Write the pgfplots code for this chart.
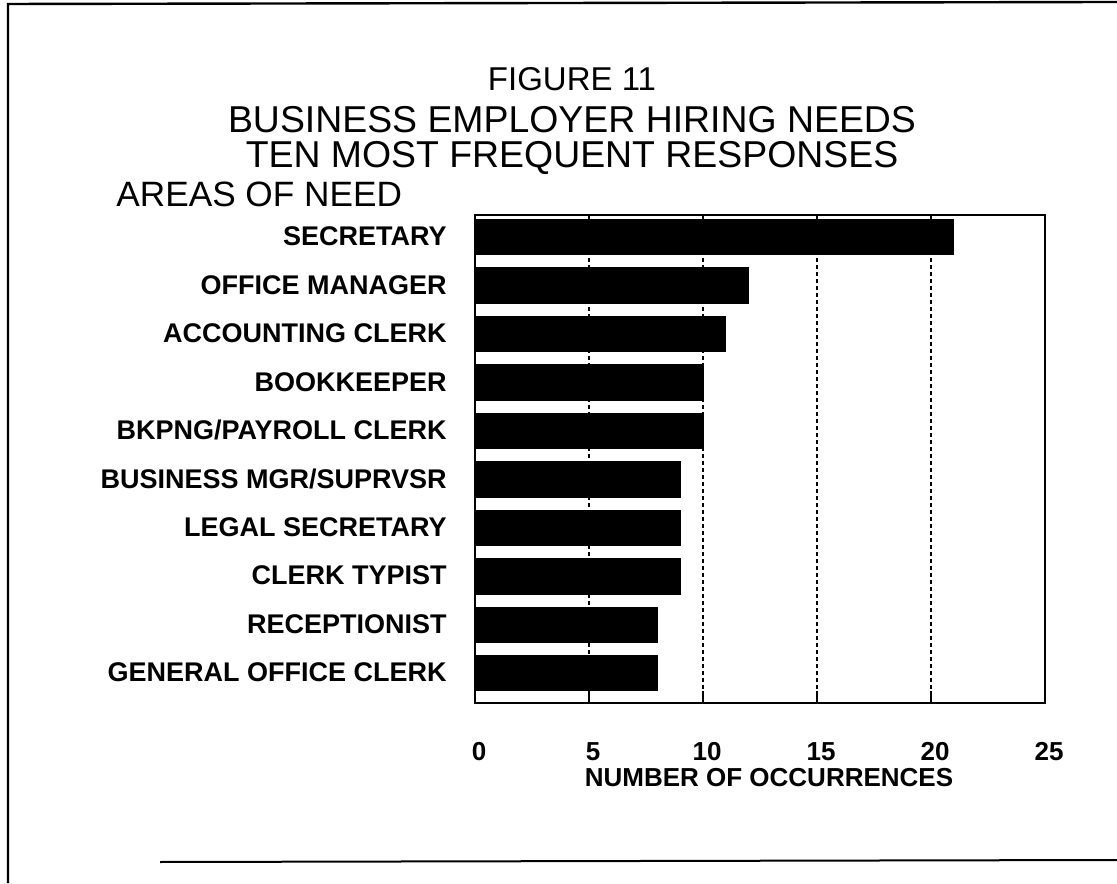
\documentclass[border=0pt]{standalone}
\usepackage{pgfplots}
\pgfplotsset{compat=1.18}
\usepackage{fontspec}
\setmainfont{Liberation Sans}
\begin{document}
\begin{tikzpicture}[x=1pt,y=1pt]
\useasboundingbox (0,0) rectangle (558.5,441.5);
% page frame (scan border)
\draw[line width=1.2pt] (4,0) -- (4,439.5) -- (558.5,440.5);
\draw[line width=1pt] (80,10.5) -- (558.5,11.5);
% titles
\node[font=\fontsize{16.5}{18}\selectfont, anchor=base, inner sep=0pt] at (286,396) {FIGURE 11};
\node[font=\fontsize{18.7}{20}\selectfont, anchor=base, inner sep=0pt] at (286,375.2) {BUSINESS EMPLOYER HIRING NEEDS};
\node[font=\fontsize{18.7}{20}\selectfont, anchor=base, inner sep=0pt] at (286,357.5) {TEN MOST FREQUENT RESPONSES};
\node[font=\fontsize{17.6}{20}\selectfont, anchor=west, inner sep=0pt] at (58,344.5) {AREAS OF NEED};
\begin{axis}[
  at={(237.5pt,90pt)}, anchor=south west,
  scale only axis, width=285pt, height=244pt,
  xbar, bar width=0.73,
  xmin=0, xmax=25, ymin=-0.615, ymax=9.455,
  xtick={0,5,10,15,20,25},
  ytick={0,...,9},
  yticklabels={GENERAL OFFICE CLERK,RECEPTIONIST,CLERK TYPIST,LEGAL SECRETARY,BUSINESS MGR/SUPRVSR,BKPNG/PAYROLL CLERK,BOOKKEEPER,ACCOUNTING CLERK,OFFICE MANAGER,SECRETARY},
  /pgf/number format/assume math mode=true,
  xticklabel style={font=\fontsize{13}{15}\selectfont\bfseries, anchor=center, yshift=-24.5pt, xshift=2pt},
  yticklabel style={font=\fontsize{13.5}{15}\selectfont\bfseries, anchor=east, inner sep=0pt, xshift=-14pt, yshift=0.3pt},
  ytick style={draw=none},
  xtick pos=bottom, tick align=inside, major tick length=6pt,
  xtick style={black, line width=0.8pt},
  axis line style={black, line width=0.9pt},
  xmajorgrids, grid style={black, line width=0.6pt, dash pattern=on 2pt off 1.5pt},
  xlabel={NUMBER OF OCCURRENCES},
  xlabel style={font=\fontsize{13}{15}\selectfont\bfseries, at={(axis description cs:0.5,0)}, anchor=center, yshift=-37.5pt, xshift=4.5pt},
]
\addplot[fill=black, draw=black] coordinates {
 (8,0) (8,1) (9,2) (9,3) (9,4) (10,5) (10,6) (11,7) (12,8) (21,9)
};
\end{axis}
\end{tikzpicture}
\end{document}
